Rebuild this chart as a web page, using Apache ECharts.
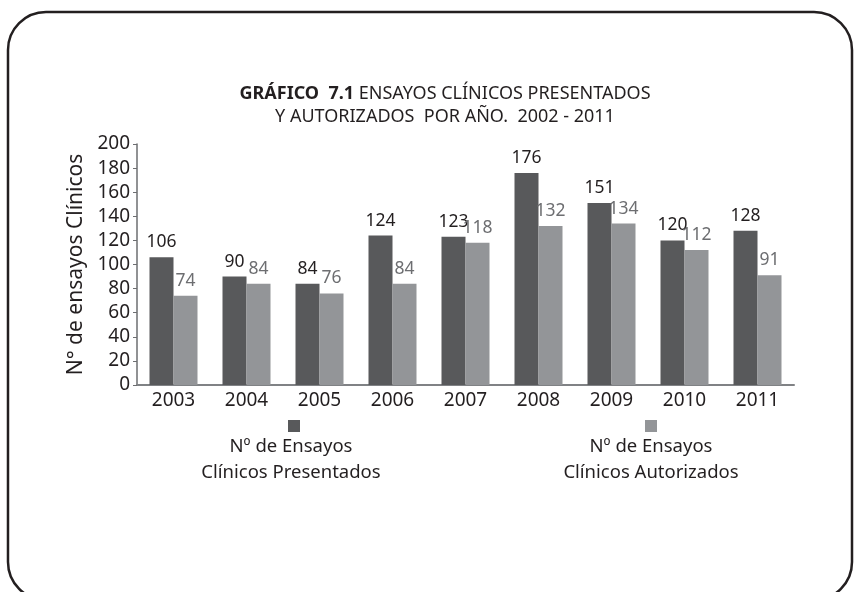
<!DOCTYPE html>
<html>
<head>
<meta charset="utf-8">
<script src="https://cdn.jsdelivr.net/npm/echarts@6/dist/echarts.min.js"></script>
<style>
  html, body { margin: 0; padding: 0; background: #ffffff; }
  #chart { width: 854px; height: 592px; }
</style>
</head>
<body>
<div id="chart"></div>
<script>
// Clinical trials submitted and authorised per year
const years = ['2003', '2004', '2005', '2006', '2007', '2008', '2009', '2010', '2011'];
const presentados = [106, 90, 84, 124, 123, 176, 151, 120, 128];
const autorizados = [74, 84, 76, 84, 118, 132, 134, 112, 91];
const yTicks = [0, 20, 40, 60, 80, 100, 120, 140, 160, 180, 200];

const namePresentados = 'Nº de Ensayos Clínicos Presentados';
const nameAutorizados = 'Nº de Ensayos Clínicos Autorizados';

const FONT = '"Noto Sans", "Open Sans", sans-serif';
const DARK = '#58595b';
const LIGHT = '#939598';
const INK = '#231f20';

const chart = echarts.init(document.getElementById('chart'), null, { renderer: 'canvas' });

chart.setOption({
  animation: false,
  backgroundColor: '#ffffff',
  textStyle: { fontFamily: FONT },
  title: [
    {
      text: '{b|GRÁFICO  7.1} ENSAYOS CLÍNICOS PRESENTADOS\nY AUTORIZADOS  POR AÑO.  2002 - 2011',
      left: 440, top: 77, textAlign: 'center',
      textStyle: {
        fontFamily: FONT, fontSize: 18, fontWeight: 'normal', color: INK, lineHeight: 23,
        rich: { b: { fontFamily: FONT, fontSize: 18, fontWeight: 'bold', color: INK } }
      }
    },
    {
      text: 'Nº de Ensayos\nClínicos Presentados',
      left: 286, top: 429, textAlign: 'center',
      textStyle: { fontFamily: FONT, fontSize: 18.5, fontWeight: 'normal', color: INK, lineHeight: 26 }
    },
    {
      text: 'Nº de Ensayos\nClínicos Autorizados',
      left: 646, top: 429, textAlign: 'center',
      textStyle: { fontFamily: FONT, fontSize: 18.5, fontWeight: 'normal', color: INK, lineHeight: 26 }
    }
  ],
  legend: [
    {
      data: [namePresentados], left: 283, top: 415, icon: 'rect',
      itemWidth: 12, itemHeight: 12, formatter: () => '', selectedMode: false
    },
    {
      data: [nameAutorizados], left: 640, top: 415, icon: 'rect',
      itemWidth: 12, itemHeight: 12, formatter: () => '', selectedMode: false
    }
  ],
  grid: { left: 137, right: 60, top: 144, bottom: 207, containLabel: false },
  xAxis: {
    type: 'category',
    data: years,
    axisLine: { lineStyle: { color: '#808285', width: 2 } },
    axisTick: { show: false },
    axisLabel: { color: INK, fontFamily: FONT, fontSize: 19, margin: 6 }
  },
  yAxis: {
    type: 'value',
    min: yTicks[0], max: yTicks[yTicks.length - 1], interval: 20,
    name: 'N° de ensayos Clínicos',
    nameLocation: 'middle', nameGap: 48, nameRotate: 90,
    nameTextStyle: { color: INK, fontFamily: FONT, fontSize: 21 },
    axisLine: { show: true, lineStyle: { color: '#6d6e71', width: 1.5 } },
    axisTick: { show: true, length: 4, lineStyle: { color: '#6d6e71' } },
    splitLine: { show: false },
    axisLabel: { color: INK, fontFamily: FONT, fontSize: 19, margin: 7 }
  },
  series: [
    {
      name: namePresentados, type: 'bar', data: presentados,
      barWidth: 24, barGap: '0%',
      itemStyle: { color: DARK },
      label: { show: true, position: 'top', distance: 6, color: INK, fontFamily: FONT, fontSize: 17.5 }
    },
    {
      name: nameAutorizados, type: 'bar', data: autorizados,
      barWidth: 24, barGap: '0%',
      itemStyle: { color: LIGHT },
      label: { show: true, position: 'top', distance: 6, color: '#6d6e71', fontFamily: FONT, fontSize: 17.5 }
    }
  ],
  graphic: [
    {
      type: 'rect', silent: true, z: -1,
      shape: { x: 8, y: 12, width: 844, height: 588, r: 38 },
      style: { fill: 'none', stroke: INK, lineWidth: 2.5 }
    }
  ]
});
</script>
</body>
</html>
